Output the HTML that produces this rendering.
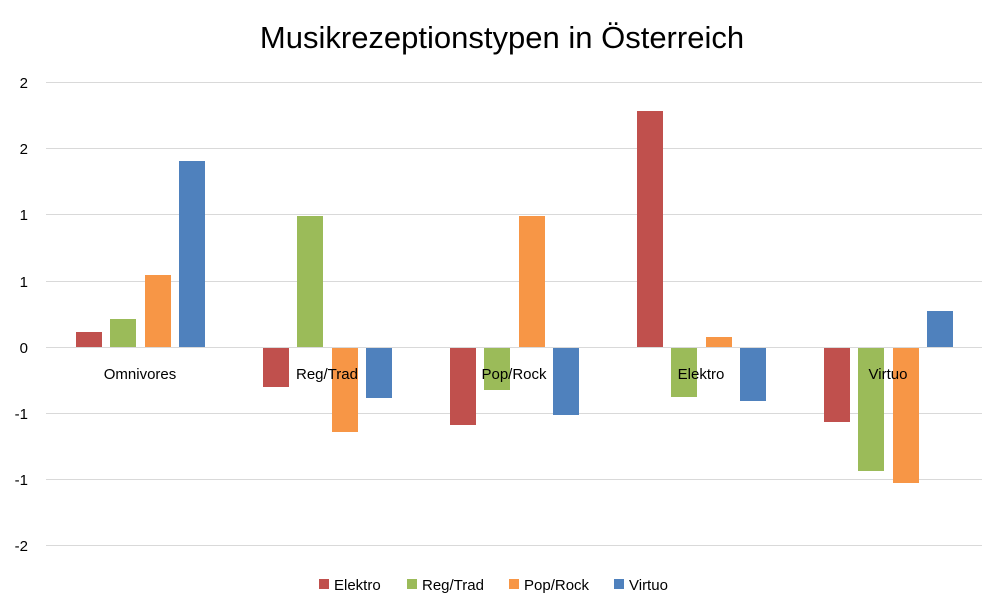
<!DOCTYPE html>
<html><head><meta charset="utf-8"><style>
body{margin:0;background:#fff;}
svg{display:block;font-family:"Liberation Sans",sans-serif;}
</style></head><body>
<svg width="1003" height="615" viewBox="0 0 1003 615">
<rect width="1003" height="615" fill="#fff"/>
<text x="502" y="48" font-size="31" text-anchor="middle" fill="#000">Musikrezeptionstypen in Österreich</text>
<g stroke="#d9d9d9" stroke-width="1">
<line x1="46" x2="982" y1="82.5" y2="82.5"/>
<line x1="46" x2="982" y1="148.5" y2="148.5"/>
<line x1="46" x2="982" y1="214.5" y2="214.5"/>
<line x1="46" x2="982" y1="281.5" y2="281.5"/>
<line x1="46" x2="982" y1="413.5" y2="413.5"/>
<line x1="46" x2="982" y1="479.5" y2="479.5"/>
<line x1="46" x2="982" y1="545.5" y2="545.5"/>
</g>
<g font-size="15" text-anchor="end" fill="#000">
<text x="28" y="88">2</text><text x="28" y="154">2</text><text x="28" y="220">1</text><text x="28" y="287">1</text>
<text x="28" y="353">0</text><text x="28" y="419">-1</text><text x="28" y="485">-1</text><text x="28" y="551">-2</text>
</g>
<!-- Omnivores -->
<rect x="76" y="332" width="26" height="15" fill="#C0504D"/>
<rect x="110" y="319" width="26" height="28" fill="#9BBB59"/>
<rect x="145" y="275" width="26" height="72" fill="#F79646"/>
<rect x="179" y="161" width="26" height="186" fill="#4F81BD"/>
<!-- Reg/Trad -->
<rect x="263" y="347" width="26" height="40" fill="#C0504D"/>
<rect x="297" y="216" width="26" height="131" fill="#9BBB59"/>
<rect x="332" y="347" width="26" height="85" fill="#F79646"/>
<rect x="366" y="347" width="26" height="51" fill="#4F81BD"/>
<!-- Pop/Rock -->
<rect x="450" y="347" width="26" height="78" fill="#C0504D"/>
<rect x="484" y="347" width="26" height="43" fill="#9BBB59"/>
<rect x="519" y="216" width="26" height="131" fill="#F79646"/>
<rect x="553" y="347" width="26" height="68" fill="#4F81BD"/>
<!-- Elektro -->
<rect x="637" y="111" width="26" height="236" fill="#C0504D"/>
<rect x="671" y="347" width="26" height="50" fill="#9BBB59"/>
<rect x="706" y="337" width="26" height="10" fill="#F79646"/>
<rect x="740" y="347" width="26" height="54" fill="#4F81BD"/>
<!-- Virtuo -->
<rect x="824" y="347" width="26" height="75" fill="#C0504D"/>
<rect x="858" y="347" width="26" height="124" fill="#9BBB59"/>
<rect x="893" y="347" width="26" height="136" fill="#F79646"/>
<rect x="927" y="311" width="26" height="36" fill="#4F81BD"/>
<line x1="46" x2="982" y1="347.5" y2="347.5" stroke="#d9d9d9"/>
<g font-size="15" text-anchor="middle" fill="#000">
<text x="140" y="379">Omnivores</text><text x="327" y="379">Reg/Trad</text><text x="514" y="379">Pop/Rock</text>
<text x="701" y="379">Elektro</text><text x="888" y="379">Virtuo</text>
</g>
<g font-size="15" fill="#000">
<rect x="319" y="579" width="10" height="10" fill="#C0504D"/><text x="334" y="590">Elektro</text>
<rect x="407" y="579" width="10" height="10" fill="#9BBB59"/><text x="422" y="590">Reg/Trad</text>
<rect x="509" y="579" width="10" height="10" fill="#F79646"/><text x="524" y="590">Pop/Rock</text>
<rect x="614" y="579" width="10" height="10" fill="#4F81BD"/><text x="629" y="590">Virtuo</text>
</g>
</svg>
</body></html>
